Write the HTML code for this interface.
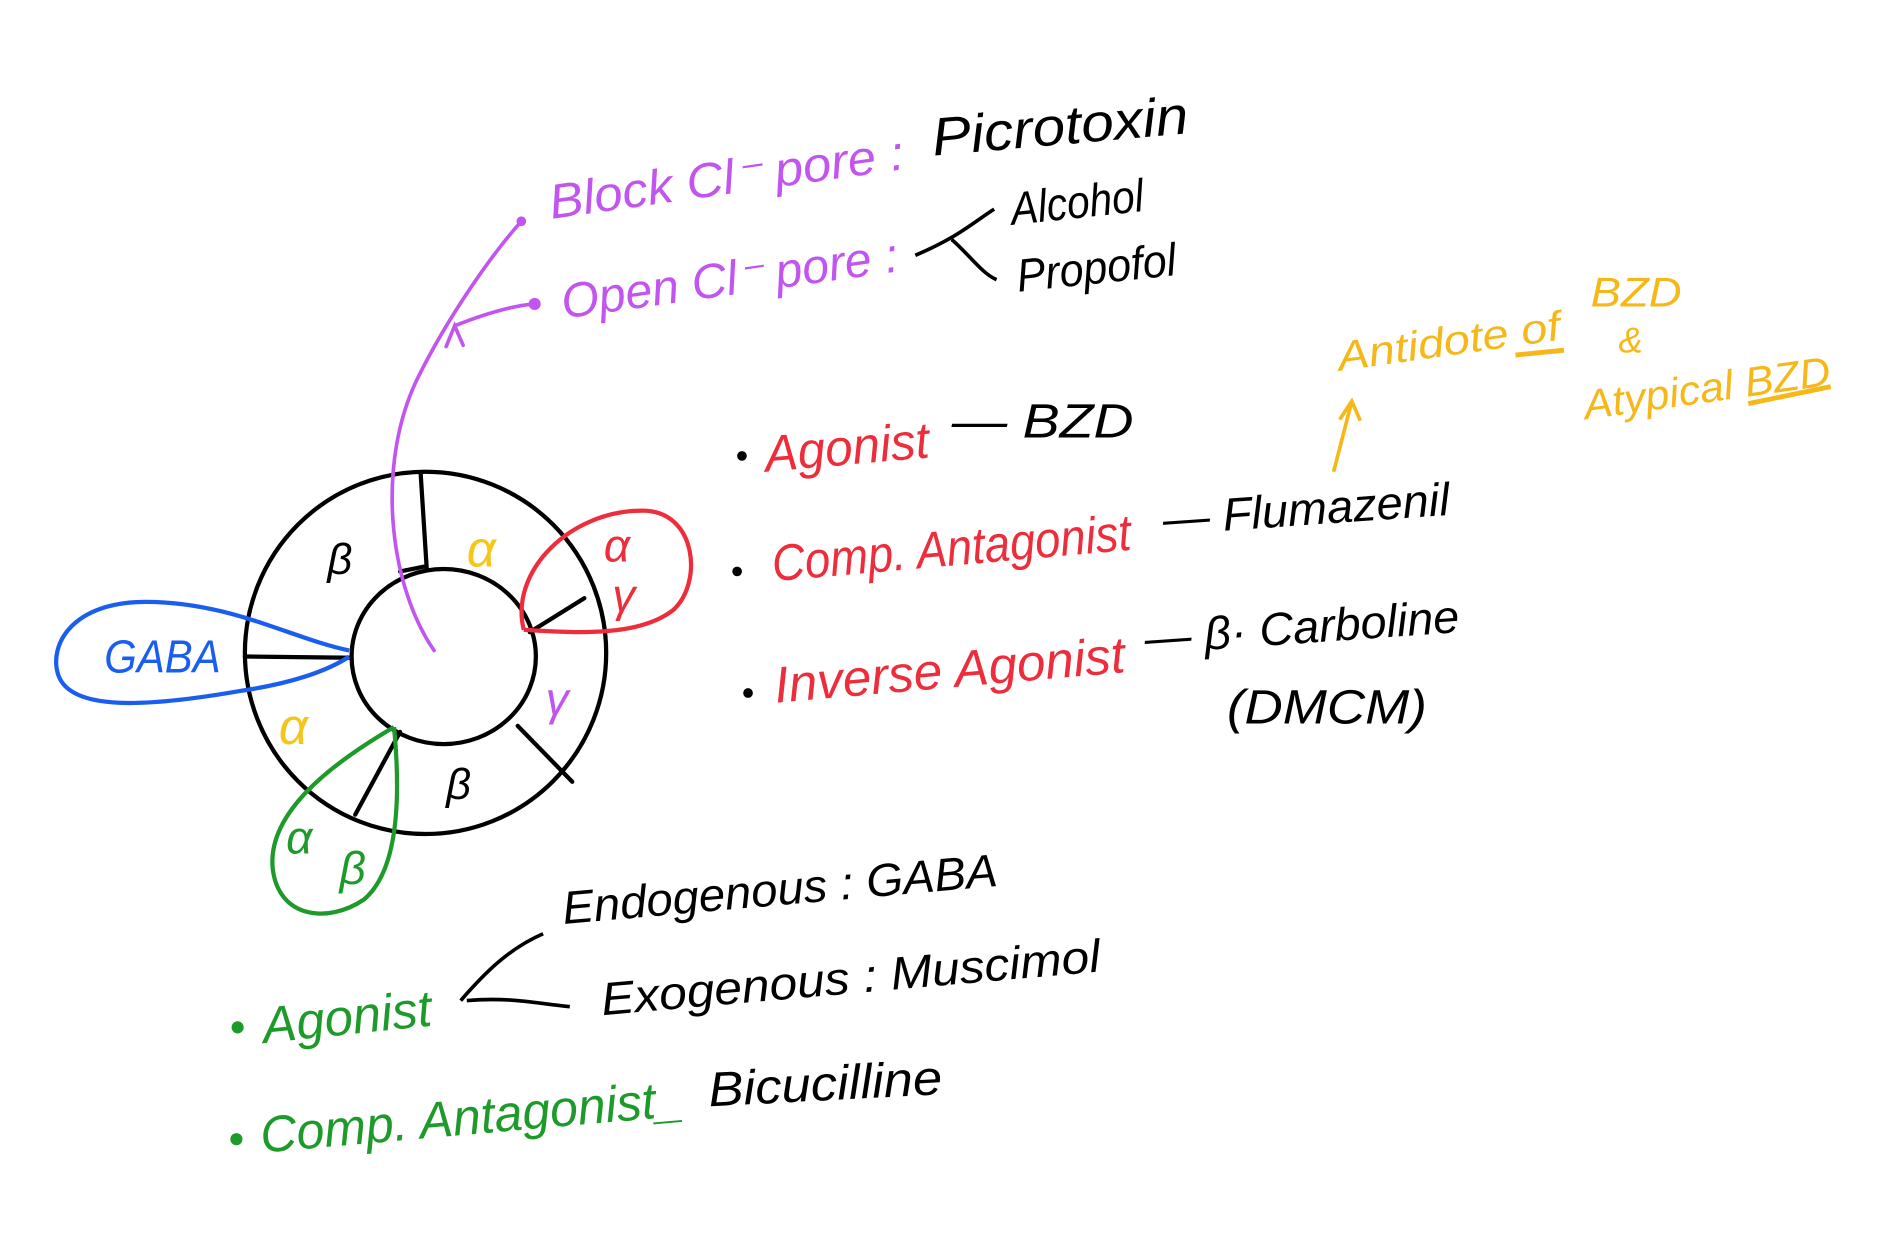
<!DOCTYPE html>
<html><head><meta charset="utf-8"><style>
html,body{margin:0;padding:0;background:#fff;}
svg{display:block;}
text{font-family:"Liberation Sans",sans-serif;font-style:italic;}
</style></head><body>
<svg width="1901" height="1245" viewBox="0 0 1568 1024" preserveAspectRatio="none" xmlns="http://www.w3.org/2000/svg">
<rect width="1568" height="1024" fill="#fff"/>
<g fill="none" stroke="#000" stroke-width="3.5" stroke-linecap="round">
<ellipse cx="351" cy="537" rx="149" ry="149"/>
<ellipse cx="366" cy="540" rx="76" ry="72"/>
<path d="M347 390 L352 468"/>
<path d="M202 540 L290 541"/>
<path d="M330 602 L293 670"/>
<path d="M427 597 L472 643"/>
<path d="M437 520 L482 492"/>
<path d="M330 470 L350 466"/>
</g>
<text x="270" y="472" font-size="36">β</text>
<text x="385" y="466" font-size="42" fill="#f5c518">α</text>
<text x="230" y="612" font-size="42" fill="#f5c518">α</text>
<text x="368" y="657" font-size="36">β</text>
<text x="450" y="588" font-size="38" fill="#c255f0">γ</text>
<path d="M288 535 C240 525 190 495 120 495 C60 495 40 530 48 555 C58 585 120 582 200 568 C240 562 270 552 288 540" fill="none" stroke="#1a5ef0" stroke-width="3.5"/>
<text x="86" y="553" font-size="38" fill="#1a5ef0" textLength="96" lengthAdjust="spacingAndGlyphs">GABA</text>
<path d="M432 518 C420 470 470 420 530 420 C575 420 580 480 555 502 C525 525 470 520 432 518" fill="none" stroke="#ee2d3c" stroke-width="3.5"/>
<text x="498" y="462" font-size="38" fill="#ee2d3c">α</text>
<text x="505" y="503" font-size="38" fill="#ee2d3c">γ</text>
<path d="M325 598 C270 630 220 670 225 715 C230 755 270 760 300 740 C330 715 330 650 325 598" fill="none" stroke="#1d9a2a" stroke-width="3.5"/>
<text x="236" y="702" font-size="38" fill="#1d9a2a">α</text>
<text x="280" y="727" font-size="38" fill="#1d9a2a">β</text>
<g fill="none" stroke="#c255f0" stroke-width="3" stroke-linecap="round">
<path d="M358 535 C320 480 310 380 345 310 C370 260 405 210 430 182"/>
<path d="M375 268 C395 260 420 252 440 250"/>
<path d="M368 285 L375 268 L382 284"/>
</g>
<circle cx="430" cy="182" r="4" fill="#c255f0"/><circle cx="441" cy="250" r="5" fill="#c255f0"/>
<text x="455" y="180" font-size="40" fill="#c255f0" transform="rotate(-8 455 180)" textLength="295" lengthAdjust="spacingAndGlyphs">Block Cl⁻ pore :</text>
<text x="465" y="262" font-size="40" fill="#c255f0" transform="rotate(-8 465 262)" textLength="280" lengthAdjust="spacingAndGlyphs">Open  Cl⁻ pore :</text>
<text x="770" y="128" font-size="44" fill="#000" transform="rotate(-5 770 128)" textLength="212" lengthAdjust="spacingAndGlyphs">Picrotoxin</text>
<path d="M755 210 C790 195 800 185 820 172 M785 197 C800 210 810 225 822 230" fill="none" stroke="#000" stroke-width="3"/>
<text x="835" y="185" font-size="38" fill="#000" transform="rotate(-6 835 185)" textLength="110" lengthAdjust="spacingAndGlyphs">Alcohol</text>
<text x="840" y="240" font-size="38" fill="#000" transform="rotate(-6 840 240)" textLength="132" lengthAdjust="spacingAndGlyphs">Propofol</text>
<circle cx="612" cy="375" r="4" fill="#000"/><circle cx="608" cy="470" r="4" fill="#000"/><circle cx="617" cy="570" r="4" fill="#000"/>
<text x="632" y="388" font-size="42" fill="#ee2d3c" transform="rotate(-5 632 388)" textLength="136" lengthAdjust="spacingAndGlyphs">Agonist</text>
<text x="785" y="360" font-size="40" fill="#000" textLength="150" lengthAdjust="spacingAndGlyphs">— BZD</text>
<text x="638" y="478" font-size="42" fill="#ee2d3c" transform="rotate(-5 638 478)" textLength="297" lengthAdjust="spacingAndGlyphs">Comp. Antagonist</text>
<text x="960" y="440" font-size="38" fill="#000" transform="rotate(-4 960 440)" textLength="237" lengthAdjust="spacingAndGlyphs">— Flumazenil</text>
<text x="640" y="578" font-size="42" fill="#ee2d3c" transform="rotate(-5 640 578)" textLength="290" lengthAdjust="spacingAndGlyphs">Inverse Agonist</text>
<text x="945" y="538" font-size="38" fill="#000" transform="rotate(-4 945 538)" textLength="260" lengthAdjust="spacingAndGlyphs">— β· Carboline</text>
<text x="1012" y="595" font-size="40" fill="#000" textLength="165" lengthAdjust="spacingAndGlyphs">(DMCM)</text>
<path d="M1100 388 L1115 330 M1105 345 L1115 330 L1122 346" fill="none" stroke="#f5b818" stroke-width="3"/>
<text x="1105" y="305" font-size="34" fill="#f5b818" transform="rotate(-8 1105 305)" textLength="185" lengthAdjust="spacingAndGlyphs">Antidote of</text>
<text x="1312" y="252" font-size="34" fill="#f5b818" textLength="75" lengthAdjust="spacingAndGlyphs">BZD</text>
<text x="1335" y="290" font-size="30" fill="#f5b818">&amp;</text>
<text x="1308" y="345" font-size="34" fill="#f5b818" transform="rotate(-8 1308 345)" textLength="205" lengthAdjust="spacingAndGlyphs">Atypical BZD</text>
<path d="M1250 292 L1290 288 M1442 332 L1510 318" stroke="#f5b818" stroke-width="4"/>
<circle cx="196" cy="845" r="5" fill="#1d9a2a"/><circle cx="195" cy="937" r="5" fill="#1d9a2a"/>
<text x="218" y="858" font-size="42" fill="#1d9a2a" transform="rotate(-6 218 858)" textLength="140" lengthAdjust="spacingAndGlyphs">Agonist</text>
<path d="M380 823 C400 800 420 780 448 768 M385 823 C420 820 440 825 470 828" fill="none" stroke="#000" stroke-width="3"/>
<text x="465" y="760" font-size="38" fill="#000" transform="rotate(-5 465 760)" textLength="360" lengthAdjust="spacingAndGlyphs">Endogenous : GABA</text>
<text x="497" y="835" font-size="38" fill="#000" transform="rotate(-5 497 835)" textLength="413" lengthAdjust="spacingAndGlyphs">Exogenous  : Muscimol</text>
<text x="216" y="948" font-size="42" fill="#1d9a2a" transform="rotate(-5 216 948)" textLength="350" lengthAdjust="spacingAndGlyphs">Comp. Antagonist_</text>
<text x="585" y="910" font-size="40" fill="#000" transform="rotate(-3 585 910)" textLength="193" lengthAdjust="spacingAndGlyphs">Bicucilline</text>
</svg>
</body></html>
